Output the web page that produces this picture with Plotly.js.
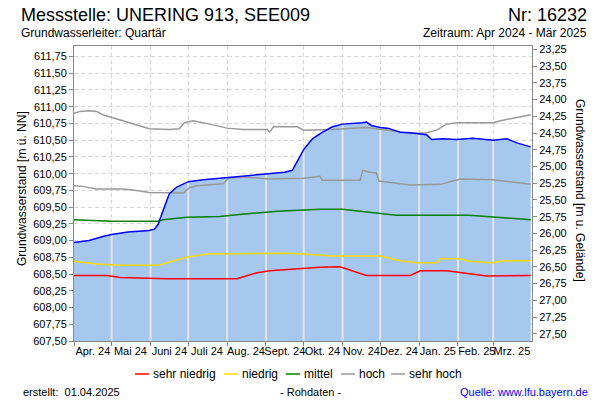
<!DOCTYPE html>
<html>
<head>
<meta charset="utf-8">
<script src="https://cdn.plot.ly/plotly-3.0.1.min.js"></script>
<style>html,body{margin:0;padding:0;background:#fff;}#chart{width:600px;height:400px;}</style>
</head>
<body>
<div id="chart"></div>
<script>
// ---- data ----
const levelDates = ['2024-04-01','2024-04-13','2024-04-24','2024-05-01','2024-05-14','2024-05-23','2024-05-31','2024-06-04','2024-06-07','2024-06-11','2024-06-14','2024-06-16','2024-06-22','2024-07-01','2024-07-13','2024-08-01','2024-08-22','2024-09-01','2024-09-16','2024-09-22','2024-09-25','2024-09-28','2024-10-01','2024-10-08','2024-10-16','2024-10-24','2024-11-01','2024-11-17','2024-11-20','2024-11-24','2024-12-01','2024-12-07','2024-12-17','2024-12-25','2025-01-02','2025-01-07','2025-01-11','2025-01-20','2025-01-31','2025-02-13','2025-03-01','2025-03-12','2025-03-20','2025-03-31'];
const levelValues = [608.97,609.00,609.06,609.09,609.13,609.14,609.15,609.17,609.24,609.45,609.60,609.70,609.80,609.88,609.91,609.94,609.97,609.99,610.02,610.05,610.15,610.25,610.36,610.52,610.62,610.70,610.74,610.76,610.77,610.72,610.69,610.68,610.62,610.61,610.59,610.58,610.51,610.52,610.51,610.53,610.50,610.52,610.46,610.40];

const sehrHochDates = ['2024-04-01','2024-04-06','2024-04-13','2024-04-19','2024-04-24','2024-05-10','2024-05-21','2024-05-31','2024-06-16','2024-06-24','2024-06-28','2024-07-05','2024-07-18','2024-08-01','2024-08-14','2024-09-02','2024-09-04','2024-09-07','2024-09-26','2024-10-01','2024-10-24','2024-11-20','2024-12-11','2024-12-25','2025-01-07','2025-01-15','2025-01-23','2025-01-31','2025-03-01','2025-03-07','2025-03-20','2025-03-31'];
const sehrHochValues = [610.90,610.93,610.94,610.93,610.88,610.79,610.73,610.67,610.66,610.67,610.76,610.79,610.74,610.68,610.66,610.66,610.62,610.70,610.70,610.65,610.66,610.69,610.64,610.60,610.61,610.65,610.74,610.76,610.76,610.79,610.84,610.88];

const hochDates = ['2024-04-01','2024-04-08','2024-04-19','2024-05-08','2024-05-10','2024-05-21','2024-05-31','2024-06-27','2024-07-02','2024-07-08','2024-07-29','2024-08-02','2024-08-14','2024-09-03','2024-10-01','2024-10-14','2024-10-16','2024-11-15','2024-11-17','2024-11-23','2024-11-28','2024-11-30','2024-12-17','2024-12-25','2025-01-18','2025-02-03','2025-03-01','2025-03-20','2025-03-31'];
const hochValues = [609.82,609.81,609.77,609.76,609.77,609.75,609.72,609.71,609.79,609.82,609.85,609.93,609.95,609.92,609.93,609.96,609.90,609.90,610.05,610.02,610.01,609.89,609.85,609.83,609.84,609.92,609.91,609.86,609.84];

const mittelDates = ['2024-04-01','2024-05-01','2024-06-07','2024-06-11','2024-06-30','2024-07-26','2024-08-17','2024-09-10','2024-10-14','2024-11-01','2024-11-15','2024-11-28','2024-12-14','2025-02-10','2025-03-01','2025-03-31'];
const mittelValues = [609.31,609.29,609.29,609.31,609.35,609.36,609.40,609.44,609.47,609.47,609.44,609.41,609.38,609.38,609.35,609.31];

const niedrigDates = ['2024-04-01','2024-04-19','2024-05-08','2024-06-07','2024-06-16','2024-06-30','2024-07-16','2024-08-17','2024-09-18','2024-10-01','2024-10-24','2024-12-01','2024-12-17','2024-12-30','2025-01-15','2025-01-18','2025-02-03','2025-02-10','2025-03-01','2025-03-09','2025-03-31'];
const niedrigValues = [608.69,608.65,608.63,608.63,608.68,608.75,608.80,608.81,608.81,608.80,608.77,608.77,608.70,608.67,608.67,608.73,608.73,608.69,608.67,608.70,608.70];

const sehrNiedrigDates = ['2024-04-01','2024-04-27','2024-05-08','2024-06-14','2024-08-09','2024-08-17','2024-08-25','2024-09-04','2024-09-18','2024-10-14','2024-10-30','2024-11-12','2024-11-20','2024-12-25','2025-01-02','2025-01-23','2025-02-08','2025-02-24','2025-03-31'];
const sehrNiedrigValues = [608.48,608.48,608.45,608.43,608.43,608.48,608.52,608.55,608.57,608.60,608.61,608.53,608.48,608.48,608.55,608.55,608.51,608.47,608.48];

const monthStarts = ['2024-04-01','2024-05-01','2024-06-01','2024-07-01','2024-08-01','2024-09-01','2024-10-01','2024-11-01','2024-12-01','2025-01-01','2025-02-01','2025-03-01'];
const monthMids = ['2024-04-16','2024-05-16','2024-06-16','2024-07-16','2024-08-16','2024-09-16','2024-10-16','2024-11-16','2024-12-16','2025-01-16','2025-02-16','2025-03-16'];
const monthLabels = ['Apr. 24','Mai 24','Juni 24','Juli 24','Aug. 24','Sept. 24','Okt. 24','Nov. 24','Dez. 24','Jan. 25','Feb. 25','Mrz. 25'];

const legendNames = ['sehr niedrig','niedrig','mittel','hoch','sehr hoch'];
const legendColors = ['#FF0000','#FFD800','#008000','#999999','#999999'];

const groundLevel = 635.107;          // m ü. NN, links depth axis to level axis
const levelRange = [607.5, 611.907];

// ---- helpers ----
const FONT = 'Liberation Sans, Arial, sans-serif';
const PL = 74, PR = 532, PT = 46, PB = 341;
const px2x = p => (p - PL) / (PR - PL);
const py2y = p => (PB - p) / (PB - PT);
const t = d => new Date(d + 'T00:00:00Z').getTime();
function interp(dates, vals, d) {
  const x = t(d);
  for (let i = 0; i < dates.length - 1; i++) {
    const a = t(dates[i]), b = t(dates[i + 1]);
    if (x >= a && x <= b) return vals[i] + (vals[i + 1] - vals[i]) * (x - a) / (b - a);
  }
  return vals[vals.length - 1];
}

// vertical month separators inside the filled area
const sepX = [], sepY = [];
monthStarts.slice(1).forEach(d => {
  sepX.push(d, d, null);
  sepY.push(levelRange[0], interp(levelDates, levelValues, d) - 0.012, null);
});

const thresholds = [
  [sehrNiedrigDates, sehrNiedrigValues],
  [niedrigDates, niedrigValues],
  [mittelDates, mittelValues],
  [hochDates, hochValues],
  [sehrHochDates, sehrHochValues]
];

const traces = [
  {x: levelDates, y: levelValues, type: 'scatter', mode: 'none', fill: 'tozeroy',
   fillcolor: '#A6C8EE', showlegend: false, hoverinfo: 'skip'},
  {x: sepX, y: sepY, type: 'scatter', mode: 'lines', line: {color: '#E4E4E4', width: 2},
   showlegend: false, hoverinfo: 'skip'}
];
thresholds.forEach((s, i) => traces.push({
  x: s[0], y: s[1], type: 'scatter', mode: 'lines', name: legendNames[i],
  line: {color: legendColors[i], width: 1.5}, showlegend: false
}));
traces.push({x: levelDates, y: levelValues, type: 'scatter', mode: 'lines',
  line: {color: '#0000FF', width: 1.5}, showlegend: false});
traces.push({x: levelDates, y: levelValues.map(v => groundLevel - v), yaxis: 'y2',
  type: 'scatter', mode: 'lines', line: {color: 'rgba(0,0,0,0)', width: 0},
  showlegend: false, hoverinfo: 'skip'});

const annotations = [
  {text: 'Messstelle: UNERING 913, SEE009', x: px2x(19), y: py2y(15), xanchor: 'left', yanchor: 'middle', font: {size: 18, color: '#000'}},
  {text: 'Nr: 16232', x: px2x(589), y: py2y(15), xanchor: 'right', yanchor: 'middle', font: {size: 18, color: '#000'}},
  {text: 'Grundwasserleiter: Quartär', x: px2x(19), y: py2y(33), xanchor: 'left', yanchor: 'middle', font: {size: 12, color: '#000'}},
  {text: 'Zeitraum: Apr 2024 - Mär 2025', x: px2x(589), y: py2y(33), xanchor: 'right', yanchor: 'middle', font: {size: 12, color: '#000'}},
  {text: 'Grundwasserstand [m ü. NN]', x: px2x(22), y: py2y(189), xanchor: 'center', yanchor: 'middle', textangle: -90, font: {size: 12, color: '#000'}},
  {text: 'Grundwasserstand [m u. Gelände]', x: px2x(580), y: py2y(190), xanchor: 'center', yanchor: 'middle', textangle: 90, font: {size: 12, color: '#000'}},
  {text: 'erstellt:  01.04.2025', x: px2x(21), y: py2y(392), xanchor: 'left', yanchor: 'middle', font: {size: 11, color: '#000'}},
  {text: '- Rohdaten -', x: px2x(310), y: py2y(392), xanchor: 'center', yanchor: 'middle', font: {size: 11, color: '#000'}},
  {text: 'Quelle: www.lfu.bayern.de', x: px2x(590), y: py2y(392), xanchor: 'right', yanchor: 'middle', font: {size: 11, color: '#0000FF'}}
];
const shapes = [];
const legendStarts = [135, 224, 286, 341, 391];
legendNames.forEach((n, i) => {
  const x0 = legendStarts[i];
  shapes.push({type: 'line', xref: 'paper', yref: 'paper', x0: px2x(x0), x1: px2x(x0 + 14),
    y0: py2y(374), y1: py2y(374), line: {color: legendColors[i], width: 1.5}});
  annotations.push({text: n, x: px2x(x0 + 17), y: py2y(374), xanchor: 'left', yanchor: 'middle',
    font: {size: 12, color: '#000'}, borderpad: 0});
});
annotations.forEach(a => { a.xref = 'paper'; a.yref = 'paper'; a.showarrow = false; });

const layout = {
  width: 600, height: 400,
  margin: {l: PL, r: 600 - PR, t: PT, b: 400 - PB, pad: 0},
  paper_bgcolor: '#fff', plot_bgcolor: '#fff',
  separators: ',.',
  font: {family: FONT, size: 11, color: '#000'},
  showlegend: false,
  xaxis: {
    type: 'date', range: ['2024-04-01', '2025-04-01'],
    tickmode: 'array', tickvals: monthMids, ticktext: monthLabels, tickangle: 0,
    ticks: '', showgrid: false, zeroline: false,
    showline: true, linecolor: '#888', linewidth: 1, mirror: true,
    tickfont: {size: 11, color: '#000'},
    minor: {tickmode: 'array', tickvals: monthStarts, ticks: 'outside', ticklen: 4,
      tickcolor: '#888', showgrid: true, gridcolor: '#D6D6D6', griddash: '4px,3px', gridwidth: 1}
  },
  yaxis: {
    range: levelRange, tick0: 607.5, dtick: 0.25, tickformat: '.2f',
    ticks: 'outside', ticklen: 4, tickcolor: '#888',
    showline: true, linecolor: '#888', linewidth: 1,
    showgrid: true, gridcolor: '#D6D6D6', griddash: '4px,3px', gridwidth: 1,
    zeroline: false, tickfont: {size: 11, color: '#000'}
  },
  yaxis2: {
    overlaying: 'y', side: 'right',
    range: [groundLevel - levelRange[0], groundLevel - levelRange[1]],
    tick0: 23.25, dtick: 0.25, tickformat: '.2f',
    ticks: 'outside', ticklen: 4, tickcolor: '#888',
    showline: true, linecolor: '#888', linewidth: 1,
    showgrid: false, zeroline: false, tickfont: {size: 11, color: '#000'}
  },
  annotations: annotations,
  shapes: shapes
};

Plotly.newPlot('chart', traces, layout, {staticPlot: true, displayModeBar: false});
</script>
</body>
</html>
